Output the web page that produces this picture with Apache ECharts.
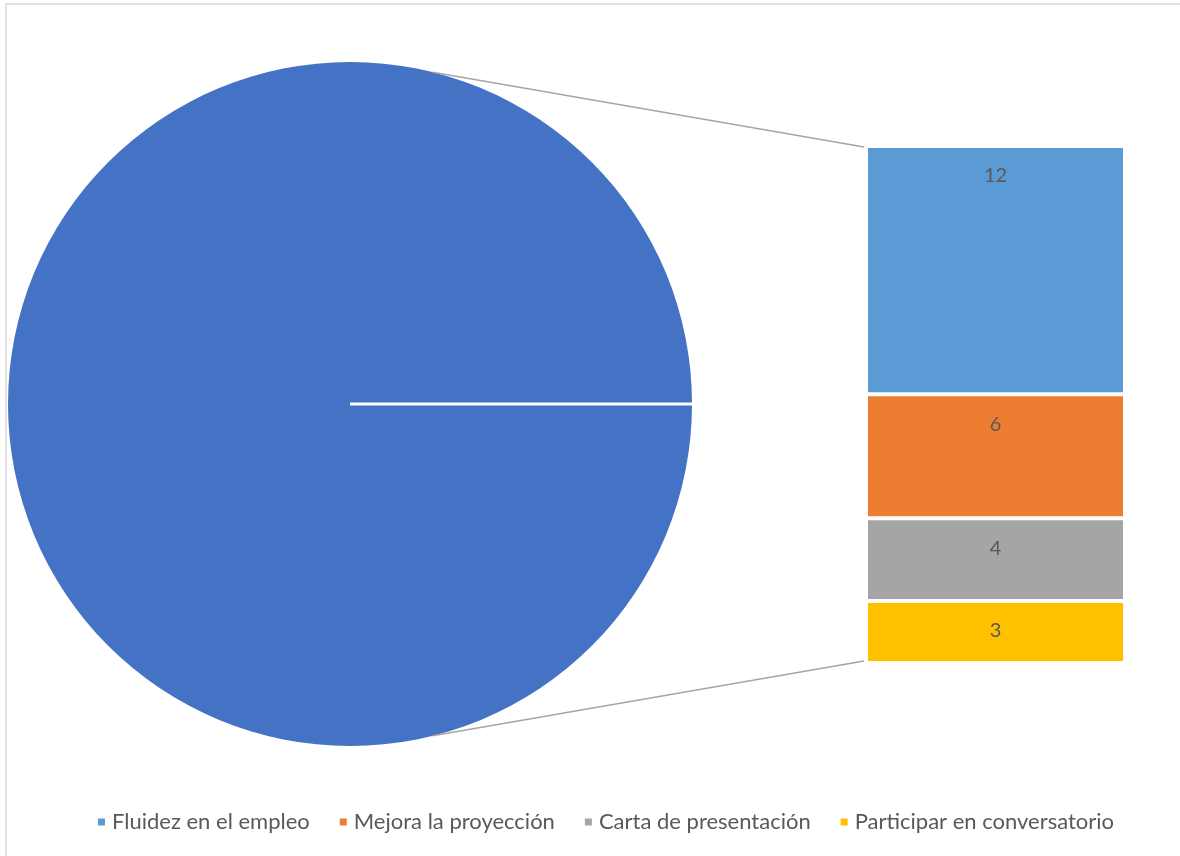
<!DOCTYPE html>
<html>
<head>
<meta charset="utf-8">
<script src="https://cdn.jsdelivr.net/npm/echarts@6/dist/echarts.min.js"></script>
<style>
  html, body { margin: 0; padding: 0; background: #fff; }
  #chart { width: 1180px; height: 856px; }
</style>
</head>
<body>
<div id="chart"></div>
<script>
// ---- Data ----
const pieName = ['Otro'];
const pieValues = [25];
const barCategories = ['Fluidez en el empleo', 'Mejora la proyección', 'Carta de presentación', 'Participar en conversatorio'];
const barValues = [12, 6, 4, 3];
const barColors = ['#5B9BD5', '#ED7D31', '#A5A5A5', '#FFC000'];
const pieColor = '#4472C4';

// ---- Layout ----
const FONT = 'Lato';
const TEXT_COLOR = '#595959';
const pieCenter = [350, 404];
const pieRadius = 342;
const gridLeft = 866, gridTop = 146, gridWidth = 259, gridHeight = 517;
const barTotal = barValues.reduce((a, b) => a + b, 0);

const chart = echarts.init(document.getElementById('chart'), null, { renderer: 'canvas' });

const barSeries = barCategories.map((name, i) => ({
  type: 'bar',
  name: name,
  stack: 'total',
  barWidth: '100%',
  data: [barValues[i]],
  itemStyle: { color: barColors[i], borderColor: '#ffffff', borderWidth: 2 },
  label: {
    show: true,
    position: 'insideTop',
    distance: 20,
    color: TEXT_COLOR,
    fontSize: 20,
    fontFamily: FONT
  },
  emphasis: { disabled: true },
  z: 3
}));

const option = {
  animation: false,
  backgroundColor: '#ffffff',
  textStyle: { fontFamily: FONT },
  legend: {
    data: barCategories,
    bottom: 18,
    left: 91,
    icon: 'rect',
    itemWidth: 9,
    itemHeight: 9,
    itemGap: 28,
    textStyle: { color: TEXT_COLOR, fontSize: 22, fontFamily: FONT, padding: [0, 0, 0, 1] },
    selectedMode: false
  },
  grid: { left: gridLeft, top: gridTop, width: gridWidth, height: gridHeight, containLabel: false },
  xAxis: { type: 'category', data: [''], show: false },
  yAxis: { type: 'value', min: 0, max: barTotal, inverse: true, show: false },
  series: [
    {
      type: 'pie',
      name: 'pie',
      center: pieCenter,
      radius: pieRadius,
      startAngle: 0,
      clockwise: true,
      data: pieName.map((n, i) => ({ name: n, value: pieValues[i] })),
      itemStyle: { color: pieColor },
      label: {
        show: true,
        position: 'inside',
        formatter: '{c}',
        color: TEXT_COLOR,
        fontSize: 20,
        fontFamily: FONT
      },
      labelLayout: { dx: -131 },
      emphasis: { disabled: true },
      silent: true
    },
    ...barSeries
  ]
};
chart.setOption(option);

// Connector lines and slice edge computed from pie geometry and bar axis
const yTop = chart.convertToPixel({ yAxisIndex: 0 }, 0) + 2;
const yBottom = chart.convertToPixel({ yAxisIndex: 0 }, barTotal) - 2;
const ang = 76 * Math.PI / 180;
const cx = pieCenter[0], cy = pieCenter[1];
const upper = [cx + pieRadius * Math.cos(ang), cy - pieRadius * Math.sin(ang)];
const lower = [cx + pieRadius * Math.cos(ang), cy + pieRadius * Math.sin(ang)];

chart.setOption({
  graphic: [
    {
      type: 'rect', silent: true, z: 0,
      shape: { x: 6, y: 4, width: 1400, height: 1200 },
      style: { fill: 'none', stroke: '#D9D9D9', lineWidth: 1.5 }
    },
    {
      type: 'line', silent: true, z: 10,
      shape: { x1: cx, y1: cy, x2: cx + pieRadius, y2: cy },
      style: { stroke: '#ffffff', lineWidth: 3 }
    },
    {
      type: 'line', silent: true, z: 10,
      shape: { x1: upper[0], y1: upper[1], x2: gridLeft - 2, y2: yTop - 1 },
      style: { stroke: '#A5A5A5', lineWidth: 1.5 }
    },
    {
      type: 'line', silent: true, z: 10,
      shape: { x1: lower[0], y1: lower[1], x2: gridLeft - 2, y2: yBottom },
      style: { stroke: '#A5A5A5', lineWidth: 1.5 }
    }
  ]
});
</script>
</body>
</html>
